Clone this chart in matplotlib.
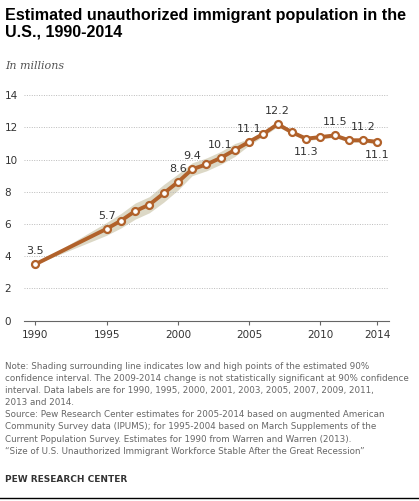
import matplotlib.pyplot as plt

yrs = [1990] + list(range(1995, 2015))
values = [3.5, 5.7, 6.2, 6.8, 7.2, 7.9, 8.6, 9.4, 9.7, 10.1, 10.6, 11.1, 11.6, 12.2,
          11.7, 11.3, 11.4, 11.5, 11.2, 11.2, 11.1]
half_ci = [0.0, 0.4, 0.45, 0.5, 0.5, 0.55, 0.5, 0.4, 0.4, 0.4, 0.4, 0.2, 0.15, 0.15,
           0.12, 0.12, 0.12, 0.12, 0.12, 0.12, 0.12]
labels_above = {1990: "3.5", 1995: "5.7", 2000: "8.6", 2001: "9.4", 2003: "10.1",
                2005: "11.1", 2007: "12.2", 2011: "11.5", 2013: "11.2"}
labels_below = {2009: "11.3", 2014: "11.1"}

brown = "#b1612a"
band = "#dcd8c6"

fig = plt.figure(figsize=(4.19, 5.01), dpi=100)
ax = fig.add_axes([0.057, 0.36, 0.871, 0.45])

lo = [v - h for v, h in zip(values, half_ci)]
hi = [v + h for v, h in zip(values, half_ci)]
ax.fill_between(yrs, lo, hi, color=band, lw=0, zorder=1)
ax.plot(yrs, values, color=brown, lw=2.8, zorder=2, marker="o", ms=5,
        mfc="white", mec=brown, mew=1.6)

for yr, txt in labels_above.items():
    v = values[yrs.index(yr)]
    ax.annotate(txt, (yr, v), xytext=(0, 6), textcoords="offset points",
                ha="center", va="bottom", fontsize=8, color="#333333")
for yr, txt in labels_below.items():
    v = values[yrs.index(yr)]
    ax.annotate(txt, (yr, v), xytext=(0, -6), textcoords="offset points",
                ha="center", va="top", fontsize=8, color="#333333")

ax.set_xlim(1989.2, 2014.8)
ax.set_ylim(0, 14)
ax.set_yticks(range(0, 15, 2))
ax.set_xticks([1990, 1995, 2000, 2005, 2010, 2014])
ax.grid(axis="y", color="#bbbbbb", ls=(0, (1, 1.5)), lw=0.7)
for s in ["top", "right", "left"]:
    ax.spines[s].set_visible(False)
ax.spines["bottom"].set_color("#666666")
ax.tick_params(axis="y", length=0, labelsize=7.5, colors="#333333")
ax.tick_params(axis="x", length=3, labelsize=7.5, colors="#333333", color="#666666")
for lab in ax.get_yticklabels():
    lab.set_horizontalalignment("left")
ax.yaxis.set_tick_params(pad=14)

fig.text(0.012, 0.985, "Estimated unauthorized immigrant population in the\nU.S., 1990-2014",
         fontsize=11.6, fontweight="bold", family="Liberation Sans", va="top", linespacing=1.15)
fig.text(0.012, 0.878, "In millions", fontsize=8, style="italic", family="DejaVu Serif",
         color="#555555", va="top")

note = ("Note: Shading surrounding line indicates low and high points of the estimated 90%\n"
        "confidence interval. The 2009-2014 change is not statistically significant at 90% confidence\n"
        "interval. Data labels are for 1990, 1995, 2000, 2001, 2003, 2005, 2007, 2009, 2011,\n"
        "2013 and 2014.\n"
        "Source: Pew Research Center estimates for 2005-2014 based on augmented American\n"
        "Community Survey data (IPUMS); for 1995-2004 based on March Supplements of the\n"
        "Current Population Survey. Estimates for 1990 from Warren and Warren (2013).\n"
        "\u201cSize of U.S. Unauthorized Immigrant Workforce Stable After the Great Recession\u201d")
fig.text(0.012, 0.278, note, fontsize=6.3, color="#666666", va="top", linespacing=1.45)
fig.text(0.012, 0.052, "PEW RESEARCH CENTER", fontsize=6.5, fontweight="bold",
         color="#333333", va="top")
fig.add_artist(plt.Line2D([0, 1], [0.006, 0.006], color="black", lw=1))

fig.savefig("out.png", dpi=100)
